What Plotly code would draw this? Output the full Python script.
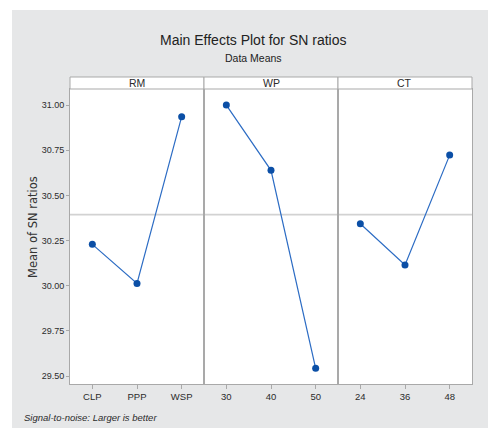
import numpy as np
import plotly.graph_objects as go
from plotly.subplots import make_subplots

# Main effects of each factor on the mean signal-to-noise ratio
factors = ["RM", "WP", "CT"]
rm_levels = ["CLP", "PPP", "WSP"]
rm_sn = [30.229, 30.013, 30.936]
wp_levels = ["30", "40", "50"]
wp_sn = [31.000, 30.639, 29.543]
ct_levels = ["24", "36", "48"]
ct_sn = [30.343, 30.115, 30.723]
y_ticks = [29.50, 29.75, 30.00, 30.25, 30.50, 30.75, 31.00]

levels = [rm_levels, wp_levels, ct_levels]
means = [rm_sn, wp_sn, ct_sn]
grand_mean = float(np.mean(rm_sn + wp_sn + ct_sn))

W, H = 488, 428
ML, MR, MT, MB = 70, 16, 89, 44
PW, PH = W - ML - MR, H - MT - MB

def px_x(p):
    return (p - ML) / PW

def px_y(p):
    return (H - MB - p) / PH

NARROW = "Liberation Sans Narrow, Arial Narrow, Liberation Sans, Arial, sans-serif"
TXT = "#2b2b2b"
FRAME = "#a9a9a9"
BG = "#e6e7e8"

fig = make_subplots(rows=1, cols=3, shared_yaxes=True, horizontal_spacing=0)

for i, (lv, m) in enumerate(zip(levels, means), start=1):
    fig.add_trace(
        go.Scatter(
            x=lv, y=m, mode="lines+markers",
            line=dict(color="#2c6cc4", width=1.2),
            marker=dict(color="#0b4fa6", size=7),
            showlegend=False, hoverinfo="x+y",
        ),
        row=1, col=i,
    )
    fig.update_xaxes(
        type="category", range=[-0.5, 2.5],
        showline=True, mirror=True, linecolor=FRAME, linewidth=1,
        ticks="outside", ticklen=4, tickcolor=FRAME,
        showgrid=False, zeroline=False,
        tickfont=dict(family=NARROW, size=9.5, color=TXT),
        row=1, col=i,
    )

fig.update_yaxes(
    range=[29.456, 31.089], tickvals=y_ticks, tickformat=".2f",
    showline=True, mirror=True, linecolor=FRAME, linewidth=1,
    showgrid=False, zeroline=False,
    tickfont=dict(family=NARROW, size=9, color=TXT),
)
fig.update_yaxes(ticks="outside", ticklen=3, tickcolor=FRAME, row=1, col=1)

shapes = [
    # white margin strips around the grey panel
    dict(type="rect", xref="paper", yref="paper", layer="below",
         x0=px_x(0), x1=px_x(12), y0=px_y(H), y1=px_y(0),
         fillcolor="white", line=dict(width=0)),
    dict(type="rect", xref="paper", yref="paper", layer="below",
         x0=px_x(0), x1=px_x(W), y0=px_y(10), y1=px_y(0),
         fillcolor="white", line=dict(width=0)),
    # grand-mean reference line
    dict(type="line", xref="paper", yref="y", x0=0, x1=1,
         y0=grand_mean, y1=grand_mean,
         line=dict(color="#d2d2d2", width=1.6), layer="below"),
]

annotations = []
strip_top = px_y(77)
for k, name in enumerate(factors):
    x0, x1 = k / 3, (k + 1) / 3
    shapes.append(dict(type="rect", xref="paper", yref="paper",
                       x0=x0, x1=x1, y0=1, y1=strip_top,
                       fillcolor="white", line=dict(color=FRAME, width=1)))
    annotations.append(dict(xref="paper", yref="paper", x=(x0 + x1) / 2,
                            y=(1 + strip_top) / 2, text=name, showarrow=False,
                            xanchor="center", yanchor="middle",
                            font=dict(family=NARROW, size=10.5, color=TXT)))

annotations += [
    dict(xref="paper", yref="paper", x=px_x(253), y=px_y(40),
         text="Main Effects Plot for SN ratios", showarrow=False,
         xanchor="center", yanchor="middle",
         font=dict(family=NARROW, size=14, color="#222222")),
    dict(xref="paper", yref="paper", x=px_x(253), y=px_y(58),
         text="Data Means", showarrow=False,
         xanchor="center", yanchor="middle",
         font=dict(family=NARROW, size=10.5, color="#222222")),
    dict(xref="paper", yref="paper", x=px_x(33), y=px_y(227),
         text="Mean of SN ratios", showarrow=False, textangle=-90,
         xanchor="center", yanchor="middle",
         font=dict(family="DejaVu Sans, Verdana, sans-serif", size=11.5, color="#333333")),
    dict(xref="paper", yref="paper", x=px_x(22), y=px_y(417),
         text="<i>Signal-to-noise: Larger is better</i>", showarrow=False,
         xanchor="left", yanchor="middle",
         font=dict(family=NARROW, size=9.5, color=TXT)),
]

fig.update_layout(
    width=W, height=H,
    margin=dict(l=ML, r=MR, t=MT, b=MB),
    paper_bgcolor=BG, plot_bgcolor="white",
    shapes=shapes, annotations=annotations,
)

fig.write_html("out.html")
